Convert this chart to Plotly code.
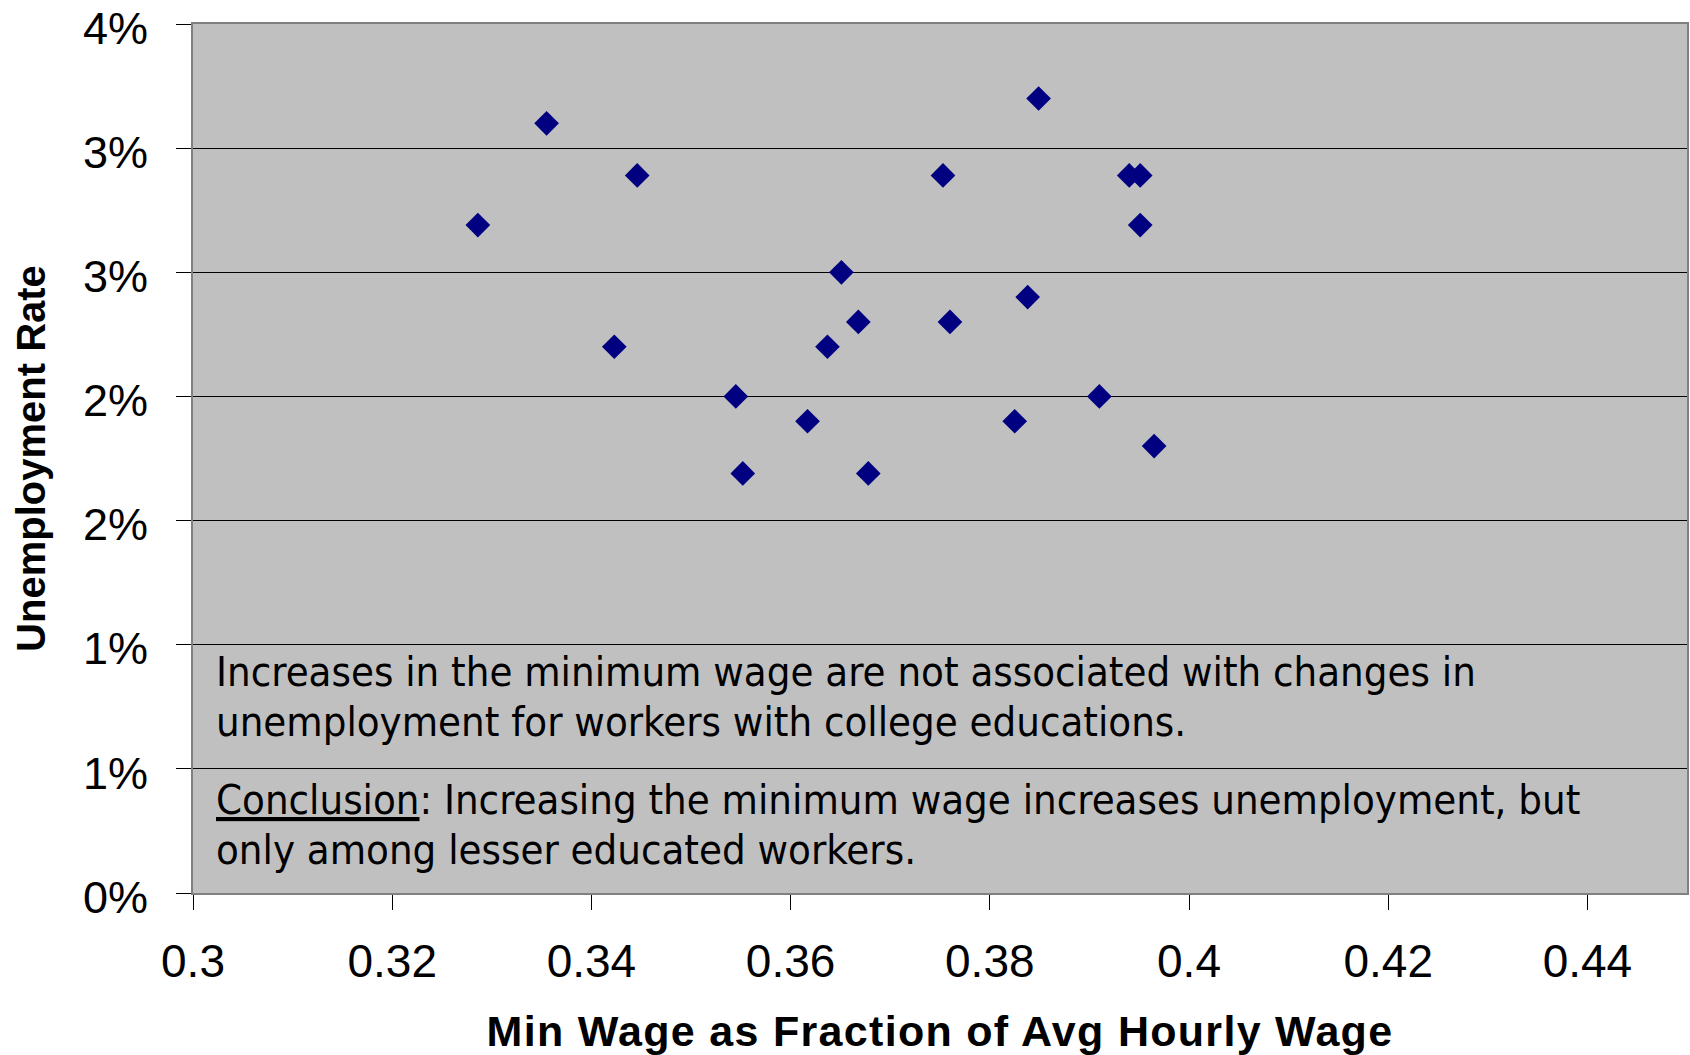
import plotly.graph_objects as go

# ---- data ----
min_wage_fraction = [0.3286, 0.3355, 0.3446, 0.3423, 0.3545, 0.3552,
                     0.3617, 0.3637, 0.3651, 0.3668, 0.3678, 0.3753,
                     0.3760, 0.3849, 0.3838, 0.3825, 0.3910, 0.3940,
                     0.3951, 0.3951, 0.3965]
unemployment_rate = [0.0269, 0.0310, 0.0289, 0.0220, 0.0200, 0.0169,
                     0.0190, 0.0220, 0.0250, 0.0230, 0.0169, 0.0289,
                     0.0230, 0.0320, 0.0240, 0.0190, 0.0200, 0.0289,
                     0.0289, 0.0269, 0.0180]

y_tick_values = [0, 0.005, 0.01, 0.015, 0.02, 0.025, 0.03, 0.035]
y_tick_labels = ["0%", "1%", "1%", "2%", "2%", "3%", "3%", "4%"]
x_tick_values = [0.30, 0.32, 0.34, 0.36, 0.38, 0.40, 0.42, 0.44]
x_tick_labels = ["0.3", "0.32", "0.34", "0.36", "0.38", "0.4", "0.42", "0.44"]

note_lines = [
    "Increases in the minimum wage are not associated with changes in",
    "unemployment for workers with college educations.",
    "<u>Conclusion</u>: Increasing the minimum wage increases unemployment, but",
    "only among lesser educated workers.",
]
note_yshift = [222, 172, 94, 44]

x_title = "Min Wage as Fraction of Avg Hourly Wage"
y_title = "Unemployment Rate"

# ---- figure ----
AXIS_FONT = "Liberation Sans, Arial, sans-serif"
NOTE_FONT = "Tahoma, DejaVu Sans Condensed, DejaVu Sans, sans-serif"

fig = go.Figure()
fig.add_trace(go.Scatter(
    x=min_wage_fraction, y=unemployment_rate, mode="markers",
    marker=dict(symbol="diamond", size=19, color="#000080",
                line=dict(width=0)),
    showlegend=False, hoverinfo="x+y",
))

for line, ys in zip(note_lines, note_yshift):
    fig.add_annotation(
        text=line, xref="x domain", yref="y domain", x=0, y=0,
        xanchor="left", yanchor="middle", xshift=21, yshift=ys,
        showarrow=False, align="left",
        font=dict(family=NOTE_FONT, size=41.5, color="#000000"),
    )

fig.update_layout(
    width=1690, height=1055,
    margin=dict(l=193, r=3, t=24, b=162),
    paper_bgcolor="#FFFFFF", plot_bgcolor="#C0C0C0",
    font=dict(family=AXIS_FONT, color="#000000"),
)
fig.update_xaxes(
    range=[0.3, 0.45], tickmode="array", tickvals=x_tick_values,
    ticktext=x_tick_labels, showgrid=False, zeroline=False,
    ticks="outside", ticklen=15, tickcolor="#000000", tickwidth=1,
    showline=True, linecolor="#808080", linewidth=2, mirror=True,
    tickfont=dict(family=AXIS_FONT, size=46), ticklabelstandoff=12,
    ticklabeloverflow="allow", automargin=False,
    title=dict(text="<b><span style='letter-spacing:1.3px'>" + x_title +
                    "</span></b>", standoff=32,
               font=dict(family=AXIS_FONT, size=43)),
)
fig.update_yaxes(
    range=[0, 0.035], tickmode="array", tickvals=y_tick_values,
    ticktext=y_tick_labels, showgrid=True, gridcolor="#000000",
    gridwidth=1, zeroline=False,
    ticks="outside", ticklen=15, tickcolor="#000000", tickwidth=1,
    showline=True, linecolor="#808080", linewidth=2, mirror=True,
    tickfont=dict(family=AXIS_FONT, size=45), ticklabelstandoff=19,
    ticklabelshift=4,
    ticklabeloverflow="allow", automargin=False,
    title=dict(text="<b>" + y_title + "</b>", standoff=25,
               font=dict(family=AXIS_FONT, size=40)),
)

fig.write_html("out.html", config={"displayModeBar": False},
               post_script="document.body.style.margin='0';")
